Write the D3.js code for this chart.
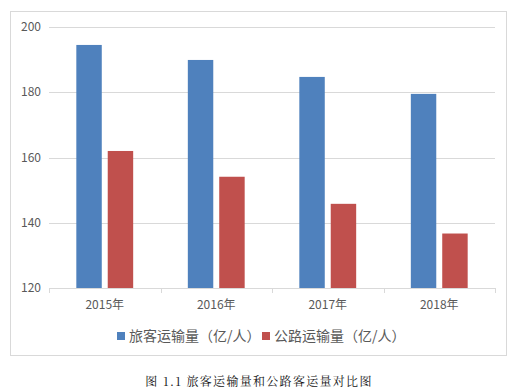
<!DOCTYPE html>
<html><head><meta charset="utf-8">
<script src="https://cdn.jsdelivr.net/npm/d3@7"></script>
<style>body{margin:0;background:#fff;}</style>
</head><body>
<svg id="c" width="513" height="389"></svg>
<script>
const categories = ["2015年","2016年","2017年","2018年"];
const seriesNames = ["旅客运输量（亿/人）","公路运输量（亿/人）"];
const passengerVolume = [194.5, 189.9, 184.7, 179.5];
const roadVolume = [162.0, 154.1, 145.8, 136.7];
const yTicks = [120, 140, 160, 180, 200];
const colors = ["#4f81bd", "#c0504d"];
const caption = "图 1.1 旅客运输量和公路客运量对比图";

const svg = d3.select("#c");
const font = "'Microsoft YaHei','Noto Sans CJK SC',sans-serif";

svg.append("rect").attr("x",10.5).attr("y",11.5).attr("width",496).attr("height",344)
  .attr("fill","#fff").attr("stroke","#d9d9d9");

const x0 = d3.scaleBand().domain(categories).range([49,495]);
const x1 = d3.scaleBand().domain([0,1]).range([0, x0.bandwidth()]).paddingInner(0.19).paddingOuter(0.87);
const y = d3.scaleLinear().domain([120,200]).range([288,27]);

// gridlines
svg.append("g").selectAll("line").data(yTicks.slice(1)).join("line")
  .attr("x1",49).attr("x2",495).attr("y1",d=>Math.round(y(d))+0.5).attr("y2",d=>Math.round(y(d))+0.5)
  .attr("stroke","#d9d9d9");

// y labels
svg.append("g").selectAll("text").data(yTicks).join("text")
  .attr("x",41).attr("y",d=>y(d)).attr("dy","0.35em").attr("text-anchor","end")
  .attr("font-family",font).attr("font-size",12).attr("fill","#595959").text(d=>d);

// bars
const data = categories.map((c,i)=>({c, v:[passengerVolume[i], roadVolume[i]]}));
const g = svg.append("g").selectAll("g").data(data).join("g")
  .attr("transform",d=>`translate(${x0(d.c)},0)`);
g.selectAll("rect").data(d=>d.v.map((v,k)=>({v,k}))).join("rect")
  .attr("x",d=>x1(d.k)).attr("width",x1.bandwidth())
  .attr("y",d=>y(d.v)).attr("height",d=>y(120)-y(d.v))
  .attr("fill",d=>colors[d.k]);

// x axis
const xa = svg.append("g").attr("transform","translate(0,288)");
xa.append("line").attr("x1",49).attr("x2",495).attr("y1",0.5).attr("y2",0.5).attr("stroke","#d9d9d9");
const bounds = categories.map(c=>x0(c)).concat([x0.range()[1]]);
xa.selectAll("line.t").data(bounds).join("line").attr("class","t")
  .attr("x1",d=>Math.round(d)+0.5).attr("x2",d=>Math.round(d)+0.5).attr("y1",0).attr("y2",5).attr("stroke","#d9d9d9");
xa.selectAll("text").data(categories).join("text")
  .attr("x",d=>x0(d)+x0.bandwidth()/2).attr("y",21).attr("text-anchor","middle")
  .attr("font-family",font).attr("font-size",12).attr("fill","#595959").text(d=>d);

// legend
const legX = [117, 262];
const lg = svg.append("g").selectAll("g").data(seriesNames).join("g")
  .attr("transform",(d,i)=>`translate(${legX[i]},332)`);
lg.append("rect").attr("width",8).attr("height",8).attr("fill",(d,i)=>colors[i]);
lg.append("text").attr("x",12).attr("y",4).attr("dy","0.35em")
  .attr("font-family",font).attr("font-size",14).attr("fill","#595959").text(d=>d);

// caption
svg.append("text").attr("x",259).attr("y",386).attr("text-anchor","middle")
  .attr("font-family","'Noto Serif CJK SC','Noto Sans CJK SC',serif").attr("font-size",12)
  .attr("letter-spacing",1.3).attr("fill","#111").text(caption);
</script>
</body></html>
